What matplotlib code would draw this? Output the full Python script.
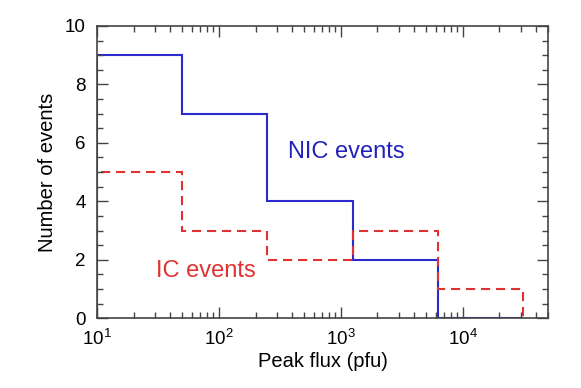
import matplotlib
matplotlib.use("Agg")
import matplotlib.pyplot as plt
from matplotlib.ticker import MultipleLocator, LogLocator, NullFormatter

# bin edges (pfu) and counts per bin
bin_edges = [10, 50, 250, 1250, 6250, 31250]
nic_counts = [9, 7, 4, 2, 0]
ic_counts = [5, 3, 2, 3, 1]

plt.rcParams['font.family'] = ['Liberation Sans', 'DejaVu Sans']
plt.rcParams['mathtext.fontset'] = 'custom'
plt.rcParams['mathtext.rm'] = 'Liberation Sans'

blue = '#2b2bcc'
red = '#e03232'

fig = plt.figure(figsize=(5.81, 3.88), dpi=100)
ax = fig.add_axes([0.167, 0.180, 0.776, 0.753])

ax.stairs(nic_counts, bin_edges, color=blue, lw=1.5, baseline=0)
ax.stairs(ic_counts, bin_edges, color=red, lw=1.5, baseline=0,
          linestyle=(0, (4.4, 2.8)))

ax.set_xscale('log')
ax.set_xlim(10, 5e4)
ax.set_ylim(0, 10)

ax.yaxis.set_major_locator(MultipleLocator(2))
ax.yaxis.set_minor_locator(MultipleLocator(0.5))
ax.xaxis.set_major_locator(LogLocator(base=10))
ax.xaxis.set_minor_locator(LogLocator(base=10, subs=range(2, 10)))
ax.xaxis.set_minor_formatter(NullFormatter())

ax.tick_params(which='both', direction='in', top=True, right=True,
               color='#444444', labelsize=13.5, width=1.0)
ax.tick_params(which='major', length=8, pad=8)
ax.tick_params(which='minor', length=4.5)
for s in ax.spines.values():
    s.set_color('#444444')
    s.set_linewidth(1.2)

ax.set_xlabel('Peak flux (pfu)', fontsize=14.5, labelpad=2)
ax.set_ylabel('Number of events', fontsize=14.5, labelpad=6)

ax.text(1100, 5.7, 'NIC events', color='#2222bb', fontsize=17,
        ha='center', va='center')
ax.text(78, 1.6, 'IC events', color=red, fontsize=17,
        ha='center', va='center')

fig.savefig('out.png', dpi=100)
